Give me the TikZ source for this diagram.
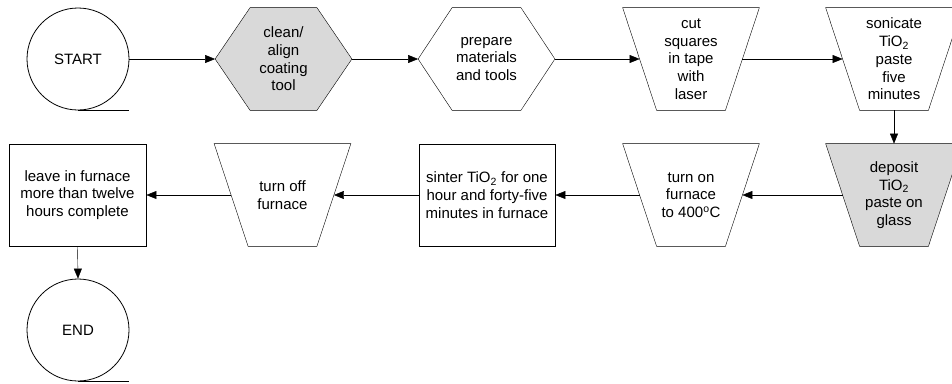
\documentclass[tikz,border=0pt]{standalone}
\usepackage{fontspec}
\setmainfont{Liberation Sans}
\usetikzlibrary{arrows.meta,calc,backgrounds}
\definecolor{shade}{RGB}{217,217,217}
\begin{document}
\begin{tikzpicture}[x=1pt,y=-1pt,line width=0.8pt,
  txt/.style={align=center,font=\fontsize{15}{17.7}\selectfont,inner sep=0pt},
  frame/.style={txt,minimum width=136pt,minimum height=102pt},
  term/.style={txt,draw,circle,minimum size=102pt},
  conn/.style={-{Triangle[length=10pt,width=8pt]}},
  filled/.style={fill=shade}]
\clip (0,0) rectangle (952,383);
% row 1
\node[term] (start) at (78,59) {START};
\draw (start.south) -- ++(51,0);
\node[frame] (clean) at (283.5,59) {clean/\\align\\coating\\tool};
\node[frame] (prep) at (486.5,59) {prepare\\materials\\and tools};
\node[frame] (cut) at (691,59) {cut\\squares\\in tape\\with\\laser};
\node[frame] (son) at (894,59) {sonicate\\TiO\textsubscript{2}\\paste\\five\\minutes};
% row 2
\node[draw,txt,minimum width=137pt,minimum height=102pt] (leave) at (77.5,195) {leave in furnace\\more than twelve\\hours complete};
\node[frame] (off) at (282.5,195) {turn off\\furnace};
\node[draw,txt,minimum width=136pt,minimum height=102pt] (sinter) at (487,195) {sinter TiO\textsubscript{2} for one\\hour and forty-five\\minutes in furnace};
\node[frame] (on) at (691,195) {turn on\\furnace\\to 400\textsuperscript{o}C};
\node[frame] (dep) at (894,195) {deposit\\TiO\textsubscript{2}\\paste on\\glass};
\node[term] (end) at (78,330) {END};
\draw (end.south) -- ++(51,0);
% shapes
\begin{pgfonlayer}{background}
\draw[filled] (clean.west) -- ([xshift=35pt]clean.north west) -- ([xshift=-35pt]clean.north east) -- (clean.east) -- ([xshift=-35pt]clean.south east) -- ([xshift=35pt]clean.south west) -- cycle;
\draw (prep.west) -- ([xshift=34pt]prep.north west) -- ([xshift=-34pt]prep.north east) -- (prep.east) -- ([xshift=-34pt]prep.south east) -- ([xshift=34pt]prep.south west) -- cycle;
\foreach \n/\s in {cut/, son/, off/, on/, dep/filled}{
  \draw[\s] (\n.north west) -- (\n.north east) -- ([xshift=-34pt]\n.south east) -- ([xshift=34pt]\n.south west) -- cycle;
}
\end{pgfonlayer}
\foreach \n in {cut,son,off,on,dep}{
  \coordinate (\n W) at ($(\n.west)+(17,0)$);
  \coordinate (\n E) at ($(\n.east)+(-17,0)$);
}
% connectors
\draw[conn] (start.east) -- (clean.west);
\draw[conn] (clean.east) -- (prep.west);
\draw[conn] (prep.east) -- (cutW);
\draw[conn] (cutE) -- (sonW);
\draw[conn] (son.south) -- (dep.north);
\draw[conn] (depW) -- (onE);
\draw[conn] (onW) -- (sinter.east);
\draw[conn] (sinter.west) -- (offE);
\draw[conn] (offW) -- (leave.east);
\draw[conn] (leave.south) -- (end.north);
\end{tikzpicture}
\end{document}
